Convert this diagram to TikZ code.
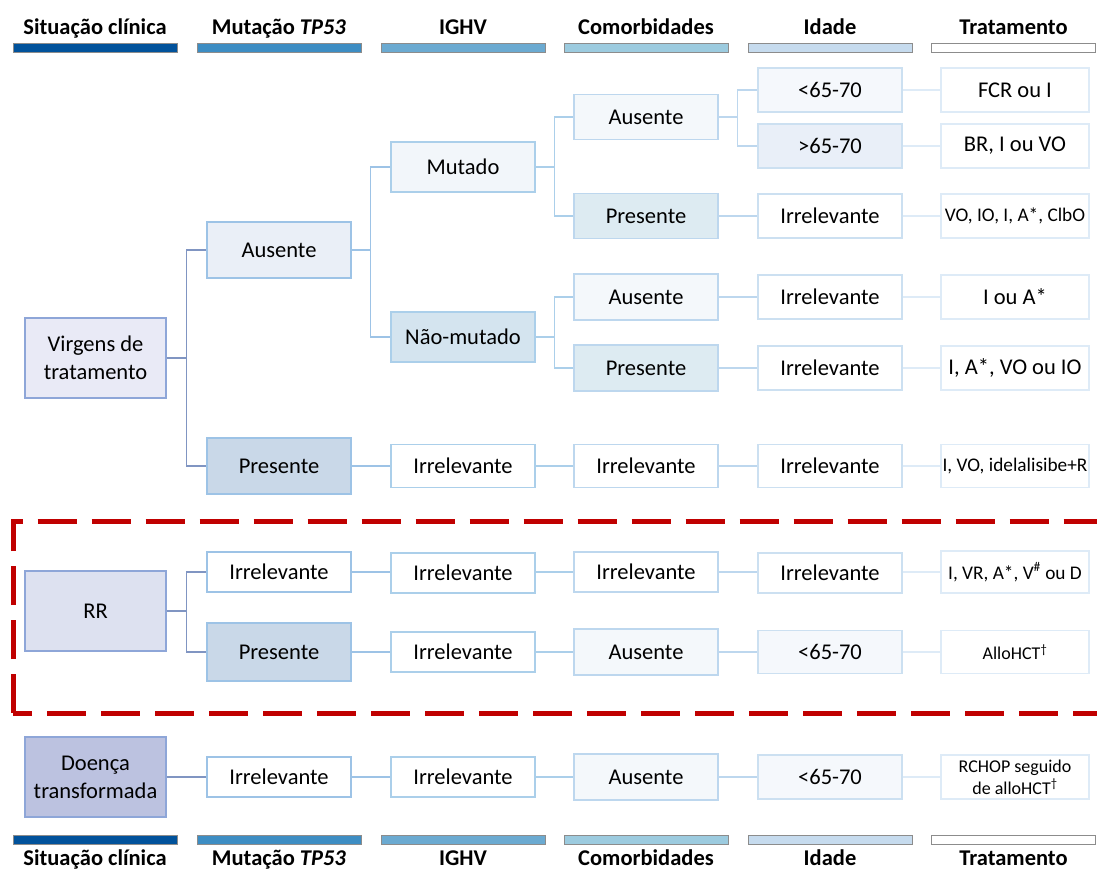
\documentclass[tikz,border=0pt]{standalone}
\usepackage{fontspec}
\setmainfont{Carlito}

\definecolor{barSit}{HTML}{01529B}
\definecolor{barTP}{HTML}{3D8DC3}
\definecolor{barIG}{HTML}{6BAAD1}
\definecolor{barCom}{HTML}{9CCBDF}
\definecolor{barIda}{HTML}{C6DBEE}
\definecolor{lnSit}{HTML}{8EA6D8}
\definecolor{lnTP}{HTML}{9DC3E6}
\definecolor{lnIG}{HTML}{ABCFEA}
\definecolor{lnCom}{HTML}{BDD7EE}
\definecolor{lnIda}{HTML}{CCE0F1}
\definecolor{lnTra}{HTML}{DEEBF7}
\definecolor{fVirgens}{HTML}{E9EAF6}
\definecolor{fRR}{HTML}{DDE1F0}
\definecolor{fDoenca}{HTML}{BCC2E0}
\definecolor{fAus}{HTML}{EAEFF7}
\definecolor{fPres}{HTML}{C9D8E8}
\definecolor{fMut}{HTML}{F2F6FA}
\definecolor{fNaoMut}{HTML}{D4E4EF}
\definecolor{fComAus}{HTML}{F4F8FB}
\definecolor{fComPres}{HTML}{DDEBF2}
\definecolor{fJovem}{HTML}{F5F8FC}
\definecolor{fIdoso}{HTML}{E9EFF8}
\definecolor{redframe}{HTML}{C00000}

\begin{document}
\begin{tikzpicture}[x=1pt, y=-1pt,
    box/.style={draw=#1, line width=1.2pt, minimum width=144pt, inner sep=0pt,
      align=center, font=\fontsize{22.5}{28}\selectfont},
    sitbox/.style={box=lnSit, minimum width=141pt, minimum height=80pt},
    tpbox/.style={box=lnTP, minimum height=40pt},
    ighvbox/.style={box=lnIG, minimum height=40pt},
    combox/.style={box=lnCom, minimum height=44pt},
    idadebox/.style={box=lnIda, minimum height=44pt},
    tratbox/.style={box=lnTra, minimum width=148pt, minimum height=44pt},
    small/.style={font=\fontsize{19.3}{23}\selectfont},
    tiny/.style={font=\fontsize{18}{22}\selectfont},
    head/.style={font=\fontsize{22.5}{26}\selectfont\bfseries, inner sep=0pt, anchor=base},
    bar/.style={draw=black!45, line width=0.8pt, minimum width=164pt, minimum height=9pt, inner sep=0pt},
    link1/.style={draw=lnSit!90!black, line width=1.2pt},
    link2/.style={draw=lnTP, line width=1.2pt},
    link3/.style={draw=lnIG, line width=1.2pt},
    link4/.style={draw=lnCom, line width=1.2pt},
    link5/.style={draw=lnTra, line width=1.2pt},
  ]
  \clip (0,0) rectangle (1097,870);

  % column headers, top and bottom
  \foreach \x/\c/\t [count=\i] in {95/barSit/Situação clínica,
      279/barTP/Mutação \textit{TP53}, 463/barIG/IGHV, 646/barCom/Comorbidades,
      830/barIda/Idade, 1013.5/white/Tratamento} {
    \node[head] (htop\i) at (\x,34) {\t};
    \node[bar, fill=\c] (btop\i) at (\x,47.5) {};
    \node[bar, fill=\c] (bbot\i) at (\x,839.5) {};
    \node[head] (hbot\i) at (\x,865) {\t};
  }

  % virgens de tratamento
  \node[sitbox, fill=fVirgens] (virgens) at (95.5,358) {Virgens de\\tratamento};
  \node[tpbox, fill=fAus, minimum height=56pt] (aus) at (279,250) {Ausente};
  \node[tpbox, fill=fPres, minimum height=56pt] (pres) at (279,466) {Presente};
  \node[ighvbox, fill=fMut, minimum height=50pt] (mut) at (463,167) {Mutado};
  \node[ighvbox, fill=fNaoMut, minimum height=50pt] (naomut) at (463,337) {Não-mutado};
  \node[ighvbox, fill=white, minimum height=43pt] (presIg) at (463,466) {Irrelevante};

  \node[combox, fill=fComAus, minimum height=45pt] (mutAus) at (646,117) {Ausente};
  \node[combox, fill=fComPres, minimum height=45pt] (mutPres) at (646,216) {Presente};
  \node[combox, fill=fComAus, minimum height=46pt] (naoAus) at (646,297) {Ausente};
  \node[combox, fill=fComPres, minimum height=46pt] (naoPres) at (646,368) {Presente};
  \node[combox, fill=white, minimum height=43pt] (presCom) at (646,466) {Irrelevante};

  \node[idadebox, fill=fJovem] (jovem) at (830,90) {<65-70};
  \node[idadebox, fill=fIdoso] (idoso) at (830,146) {>65-70};
  \node[idadebox, fill=white] (mutPresId) at (830,216) {Irrelevante};
  \node[idadebox, fill=white] (naoAusId) at (830,297) {Irrelevante};
  \node[idadebox, fill=white] (naoPresId) at (830,368) {Irrelevante};
  \node[idadebox, fill=white, minimum height=43pt] (presId) at (830,466) {Irrelevante};

  \node[tratbox] (t1) at (1015,90) {FCR ou I};
  \node[tratbox] (t2) at (1015,146) {BR, I ou VO};
  \node[tratbox, small] (t3) at (1015,216) {VO, IO, I, A*, ClbO};
  \node[tratbox] (t4) at (1015,297) {I ou A*};
  \node[tratbox] (t5) at (1015,368) {I, A*, VO ou IO};
  \node[tratbox, small, minimum height=43pt] (t6) at (1015,466) {I, VO, idelalisibe+R};

  \draw[link1] (virgens.east) -| ([xshift=-20pt]aus.west) -- (aus.west);
  \draw[link1] (virgens.east) -| ([xshift=-20pt]pres.west) -- (pres.west);
  \draw[link2] (aus.east) -| ([xshift=-20pt]mut.west) -- (mut.west);
  \draw[link2] (aus.east) -| ([xshift=-20pt]naomut.west) -- (naomut.west);
  \draw[link2] (pres) -- (presIg);
  \draw[link3] (mut.east) -| ([xshift=-19pt]mutAus.west) -- (mutAus.west);
  \draw[link3] (mut.east) -| ([xshift=-19pt]mutPres.west) -- (mutPres.west);
  \draw[link3] (naomut.east) -| ([xshift=-19pt]naoAus.west) -- (naoAus.west);
  \draw[link3] (naomut.east) -| ([xshift=-19pt]naoPres.west) -- (naoPres.west);
  \draw[link3] (presIg) -- (presCom);
  \draw[link4] (mutAus.east) -| ([xshift=-20pt]jovem.west) -- (jovem.west);
  \draw[link4] (mutAus.east) -| ([xshift=-20pt]idoso.west) -- (idoso.west);
  \draw[link4] (mutPres) -- (mutPresId);
  \draw[link4] (naoAus) -- (naoAusId);
  \draw[link4] (naoPres) -- (naoPresId);
  \draw[link4] (presCom) -- (presId);
  \draw[link5] (jovem) -- (t1);
  \draw[link5] (idoso) -- (t2);
  \draw[link5] (mutPresId) -- (t3);
  \draw[link5] (naoAusId) -- (t4);
  \draw[link5] (naoPresId) -- (t5);
  \draw[link5] (presId) -- (t6);

  % recidivante / refratária
  \draw[redframe, line width=5pt, dash pattern=on 39pt off 15pt]
    (13,713) -- (13,521.5) -- (1110,521.5);
  \draw[redframe, line width=5pt, dash pattern=on 39pt off 15pt, dash phase=20pt]
    (13,713) -- (1110,713);
  \node[sitbox, fill=fRR] (rr) at (95.5,611) {RR};
  \node[tpbox, fill=white] (rrIrr) at (279,572) {Irrelevante};
  \node[tpbox, fill=fPres, minimum height=58pt] (rrPres) at (279,652) {Presente};
  \node[ighvbox, fill=white] (rrIg1) at (463,573) {Irrelevante};
  \node[ighvbox, fill=white] (rrIg2) at (463,652) {Irrelevante};
  \node[combox, fill=white, minimum height=40pt] (rrCom1) at (646,572) {Irrelevante};
  \node[combox, fill=fComAus, minimum height=46pt] (rrCom2) at (646,652) {Ausente};
  \node[idadebox, fill=white, minimum height=40pt] (rrId1) at (830,573) {Irrelevante};
  \node[idadebox, fill=fJovem, minimum height=43pt] (rrId2) at (830,652) {<65-70};
  \node[tratbox, small, minimum height=42pt] (rrT1) at (1015,572) {I, VR, A*, V\textsuperscript{\#} ou D};
  \node[tratbox, tiny, minimum height=43pt] (rrT2) at (1015,652) {AlloHCT\textsuperscript{\textdagger}};

  \draw[link1] (rr.east) -| ([xshift=-20pt]rrIrr.west) -- (rrIrr.west);
  \draw[link1] (rr.east) -| ([xshift=-20pt]rrPres.west) -- (rrPres.west);
  \draw[link2] (rrIrr.east) -- (rrIrr.east -| rrIg1.west);
  \draw[link2] (rrPres) -- (rrIg2);
  \draw[link3] (rrIg1.east |- rrCom1) -- (rrCom1);
  \draw[link3] (rrIg2) -- (rrCom2);
  \draw[link4] (rrCom1) -- (rrCom1 -| rrId1.west);
  \draw[link4] (rrCom2) -- (rrId2);
  \draw[link5] (rrId1.east |- rrT1) -- (rrT1);
  \draw[link5] (rrId2) -- (rrT2);

  % doença transformada
  \node[sitbox, fill=fDoenca] (doenca) at (95.5,777) {Doença\\transformada};
  \node[tpbox, fill=white] (dIrr) at (279,777) {Irrelevante};
  \node[ighvbox, fill=white] (dIg) at (463,777) {Irrelevante};
  \node[combox, fill=fComAus, minimum height=46pt] (dCom) at (646,777) {Ausente};
  \node[idadebox, fill=fJovem] (dId) at (830,777) {<65-70};
  \node[tratbox, tiny, minimum height=44pt] (dT) at (1015,777) {RCHOP seguido\\de alloHCT\textsuperscript{\textdagger}};

  \draw[link1] (doenca) -- (dIrr);
  \draw[link2] (dIrr) -- (dIg);
  \draw[link3] (dIg) -- (dCom);
  \draw[link4] (dCom) -- (dId);
  \draw[link5] (dId) -- (dT);
\end{tikzpicture}
\end{document}
